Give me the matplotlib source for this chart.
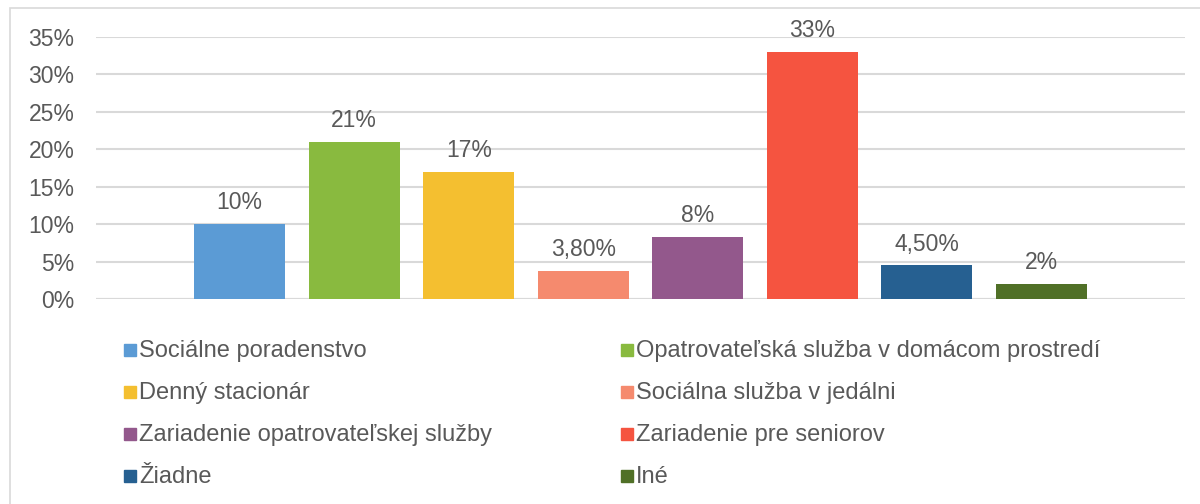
import matplotlib
matplotlib.use("Agg")
import matplotlib.pyplot as plt
from matplotlib.patches import Rectangle

plt.rcParams['font.family'] = ['Liberation Sans', 'DejaVu Sans']

categories = ["Sociálne poradenstvo", "Opatrovateľská služba v domácom prostredí",
              "Denný stacionár", "Sociálna služba v jedálni",
              "Zariadenie opatrovateľskej služby", "Zariadenie pre seniorov",
              "Žiadne", "Iné"]
values = [10, 21, 17, 3.8, 8.3, 33, 4.5, 2]
value_labels = ["10%", "21%", "17%", "3,80%", "8%", "33%", "4,50%", "2%"]
colors = ["#5B9BD5", "#89BA3F", "#F4BF30", "#F58A6E", "#93588C", "#F55440", "#266091", "#507027"]
yticks = [0, 5, 10, 15, 20, 25, 30, 35]

txt = "#595959"
fs = 16.5
fig = plt.figure(figsize=(12, 5.04), dpi=100)
ax = fig.add_axes([0.08, 0.4067, 0.9075, 0.52])

x = range(len(values))
ax.bar(x, values, width=0.795, color=colors, zorder=3)
for i, v in enumerate(values):
    ax.annotate(value_labels[i], (i, v), xytext=(0, 7), textcoords="offset points",
                ha="center", va="bottom", fontsize=fs, color=txt, annotation_clip=False)

ax.set_xlim(-1.255, 8.255)
ax.set_ylim(0, 35)
ax.set_yticks(yticks)
ax.set_yticklabels([f"{t}%" for t in yticks], fontsize=fs, color=txt)
ax.tick_params(axis="y", length=0, pad=15.5)
ax.set_xticks([])
ax.grid(axis="y", color="#D9D9D9", linewidth=1.5, zorder=0)
for s in ax.spines.values():
    s.set_visible(False)
ax.axhline(0, color="#D9D9D9", linewidth=1.5, zorder=2)

# legend, two columns
for i, (lab, c) in enumerate(zip(categories, colors)):
    row, col = i // 2, i % 2
    xl = [124, 621][col] / 1200
    yl = 1 - (350 + row * 42) / 504
    fig.patches.append(Rectangle((xl, yl - 6 / 504), 12 / 1200, 12 / 504,
                                 transform=fig.transFigure, color=c))
    fig.text(xl + 15 / 1200, yl - 1 / 504, lab, fontsize=17, color=txt, va="center", ha="left")

# chart frame
fig.patches.append(Rectangle((10 / 1200, -0.1), 1.2, 1 - 8 / 504 + 0.1, transform=fig.transFigure,
                             fill=False, edgecolor="#D9D9D9", linewidth=1.2))

fig.savefig("out.png", dpi=100, facecolor="white")
